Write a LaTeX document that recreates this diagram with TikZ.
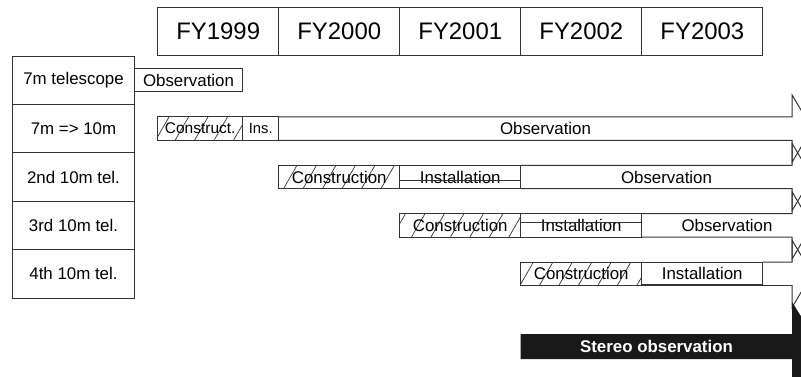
\documentclass[tikz,border=0pt]{standalone}
\usepackage{fontspec}
\setmainfont{Liberation Sans}
\usetikzlibrary{positioning,patterns.meta}

\begin{document}
\begin{tikzpicture}[x=0.025cm, y=-0.025cm]
  \tikzstyle{yearbox}=[draw=black!80, line width=0.7pt, outer sep=0pt, inner sep=0pt, minimum width=3.025cm, minimum height=1.19cm, font=\fontsize{17}{19}\selectfont]
  \tikzstyle{rowbox}=[draw=black!80, line width=0.7pt, outer sep=0pt, inner sep=0pt, minimum width=3.04cm, minimum height=1.21cm, font=\fontsize{12}{14}\selectfont]
  \tikzstyle{bar}=[draw=black!80, line width=0.7pt, outer sep=0pt, inner sep=0pt, minimum height=0.585cm, anchor=west, font=\fontsize{12}{14}\selectfont]
  \tikzstyle{hatch}=[pattern={Lines[angle=60, distance=12pt, line width=0.5pt]}, pattern color=black!80]
  \tikzstyle{obsarrow}=[draw=black!80, line width=0.7pt, line join=miter]
  \tikzstyle{bartext}=[inner sep=0pt, font=\fontsize{12}{14}\selectfont]

  \useasboundingbox (0,0) rectangle (801,376);
  \clip (0,0) rectangle (801,376);

  % Fiscal years
  \node[yearbox] (fy1999) at (218.2,31.2) {FY1999};
  \node[yearbox, right=0pt of fy1999] (fy2000) {FY2000};
  \node[yearbox, right=0pt of fy2000] (fy2001) {FY2001};
  \node[yearbox, right=0pt of fy2001] (fy2002) {FY2002};
  \node[yearbox, right=0pt of fy2002] (fy2003) {FY2003};

  % Telescopes
  \node[rowbox] (tel7) at (73.5,80.2) {7m telescope};
  \node[rowbox, below=0pt of tel7] (tel10) {7m => 10m};
  \node[rowbox, below=0pt of tel10] (tel2nd) {2nd 10m tel.};
  \node[rowbox, below=0pt of tel2nd] (tel3rd) {3rd 10m tel.};
  \node[rowbox, below=0pt of tel3rd] (tel4th) {4th 10m tel.};

  % Observation arrows
  \foreach \xs/\yc in {278.7/128.6, 520.7/177, 641.7/225.4, 762.7/273.8}
    \draw[obsarrow] (\xs,\yc-11.7) -- (792,\yc-11.7) -- (792,\yc-33.7) -- (812,\yc)
      -- (792,\yc+33.7) -- (792,\yc+11.7) -- (\xs,\yc+11.7);

  % Schedule
  \node[bar, minimum width=2.71cm] (obs7) at (134.3,80.2) {Observation};

  \node[bar, hatch, minimum width=2.125cm, font=\fontsize{11}{13}\selectfont] (con10) at (157.7,128.6) {Construct.};
  \node[bar, minimum width=0.9cm, font=\fontsize{10.5}{12}\selectfont] (ins10) at (242.7,128.6) {Ins.};
  \node[bartext] (obs10) at (545.5,128.6) {Observation};

  \node[bar, hatch, minimum width=3.025cm] (con2nd) at (278.7,177) {Construction};
  \node[bar, minimum width=3.025cm] (ins2nd) at (399.7,177) {Installation};
  \node[bartext] (obs2nd) at (666.5,177) {Observation};

  \node[bar, hatch, minimum width=3.025cm] (con3rd) at (399.7,225.4) {Construction};
  \node[bar, minimum width=3.025cm] (ins3rd) at (520.7,225.4) {Installation};
  \node[bartext] (obs3rd) at (727,225.4) {Observation};

  \node[bar, hatch, minimum width=3.025cm] (con4th) at (520.7,273.8) {Construction};
  \node[bar, minimum width=3.025cm] (ins4th) at (641.7,273.8) {Installation};

  % Stray lines in the installation boxes
  \draw[obsarrow] (399.7,180) -- (520.7,180);
  \draw[obsarrow] (520.7,222) -- (641.7,222);
  \draw[obsarrow] (641.7,284) -- (762.7,284);

  % Stereo observation
  \fill[black!90] (520.7,334) -- (792,334) -- (792,302) -- (820,346.5) -- (792,391)
    -- (792,359) -- (520.7,359) -- cycle;
  \node[text=white, font=\bfseries\fontsize{12}{14}\selectfont] (stereo) at (656.5,346.5) {Stereo observation};
\end{tikzpicture}
\end{document}
